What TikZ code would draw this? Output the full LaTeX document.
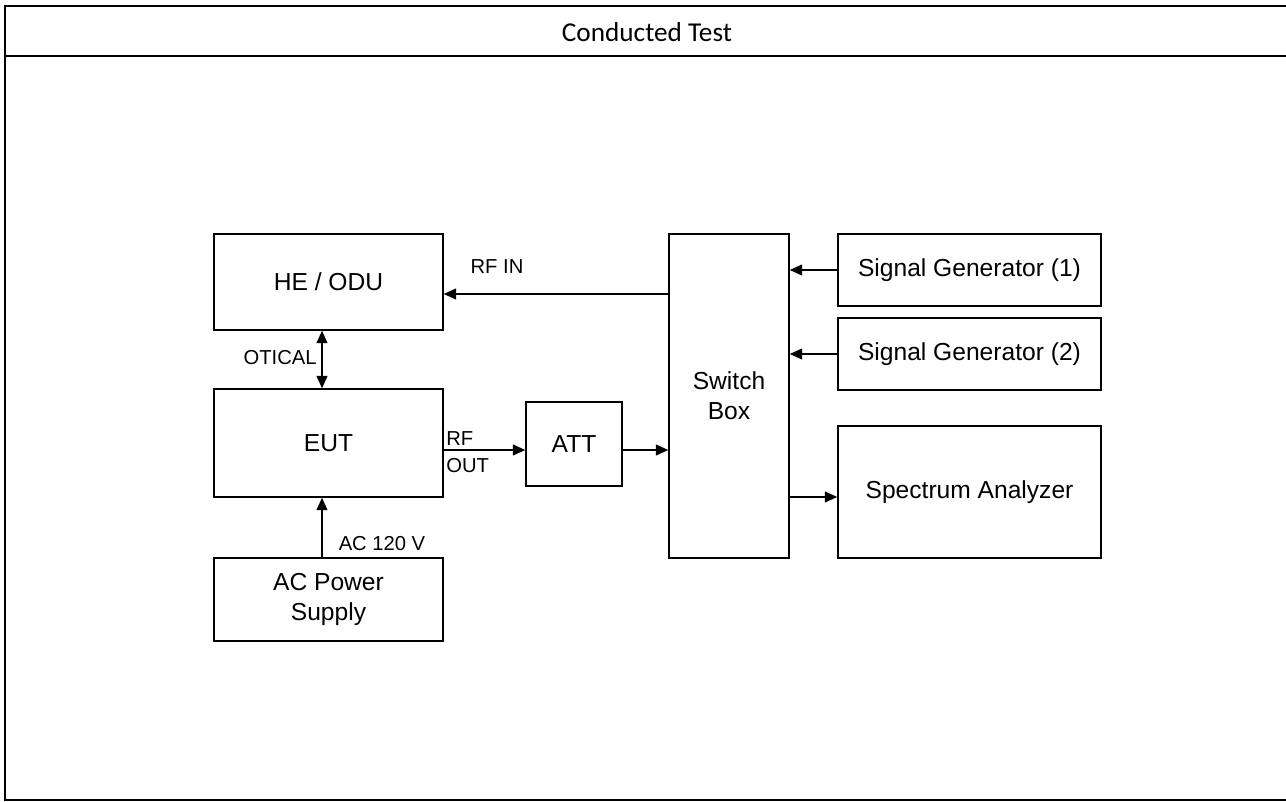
\documentclass[tikz,border=0pt]{standalone}
\usepackage{fontspec}
\setmainfont{Liberation Sans}
\newfontfamily\titlefont{Carlito}
\usetikzlibrary{arrows.meta,positioning}

\begin{document}
\begin{tikzpicture}[every node/.style={font=\fontsize{14}{17}\selectfont},
  unit/.style={draw,line width=.9pt,inner sep=0pt,align=center},
  lbl/.style={font=\fontsize{11.5}{14}\selectfont,inner sep=0pt},
  arr/.style={line width=.75pt,-{Triangle[length=7pt,width=6.2pt]}},
  frame/.style={line width=1.15pt}]
\useasboundingbox (0,0) rectangle (25.72,16.02);
\draw[frame] (25.72,15.904)--(0.10,15.904)--(0.10,0.02)--(25.72,0.02);
\draw[frame] (0.10,14.904)--(25.72,14.904);
\node[font=\titlefont\fontsize{15.5}{19}\selectfont] (title) at (12.94,15.37) {Conducted Test};
\node[unit,minimum width=4.58cm,minimum height=1.92cm] (he) at (6.57,10.38) {HE / ODU};
\node[unit,minimum width=4.58cm,minimum height=2.16cm] (eut) at (6.57,7.16) {EUT};
\node[unit,minimum width=4.58cm,minimum height=1.66cm] (ac) at (6.57,4.03) {AC Power\\Supply};
\node[unit,minimum width=1.92cm,minimum height=1.68cm] (att) at (11.48,7.14) {ATT};
\node[unit,minimum width=2.40cm,minimum height=6.48cm] (sw) at (14.58,8.10) {Switch\\Box};
\node[unit,minimum width=5.26cm,minimum height=1.44cm] (sg1) at (19.39,10.62) {Signal Generator (1)};
\node[unit,minimum width=5.26cm,minimum height=1.44cm] (sg2) at (19.39,8.94) {Signal Generator (2)};
\node[unit,minimum width=5.26cm,minimum height=2.64cm] (sa) at (19.39,6.18) {Spectrum Analyzer};
\coordinate (rfin) at ([yshift=-0.24cm]he.east);
\coordinate (rfout) at ([yshift=-0.14cm]eut.east);
\draw[arr] (sw.west |- rfin)--(rfin);
\draw[line width=.75pt,{Triangle[length=7pt,width=6.2pt]}-{Triangle[length=7pt,width=6.2pt]}] ([xshift=-0.13cm]he.south)--([xshift=-0.13cm]eut.north);
\draw[arr] (rfout)--(att.west |- rfout);
\draw[arr] (att.east |- rfout)--(sw.west |- rfout);
\draw[arr] (sg1.west)--(sw.east |- sg1.west);
\draw[arr] (sg2.west)--(sw.east |- sg2.west);
\draw[arr] (sw.east |- 0,6.08)--(sa.west |- 0,6.08);
\draw[arr] ([xshift=-0.13cm]ac.north)--([xshift=-0.13cm]eut.south);
\node[lbl] (rfinlbl) at (9.94,10.68) {RF IN};
\node[lbl,anchor=east] (otical) at (6.34,8.86) {OTICAL};
\node[lbl,anchor=west] (rf) at (8.92,7.24) {RF};
\node[lbl,anchor=west] (out) at (8.92,6.70) {OUT};
\node[lbl] (acv) at (7.64,5.14) {AC 120 V};
\end{tikzpicture}
\end{document}
